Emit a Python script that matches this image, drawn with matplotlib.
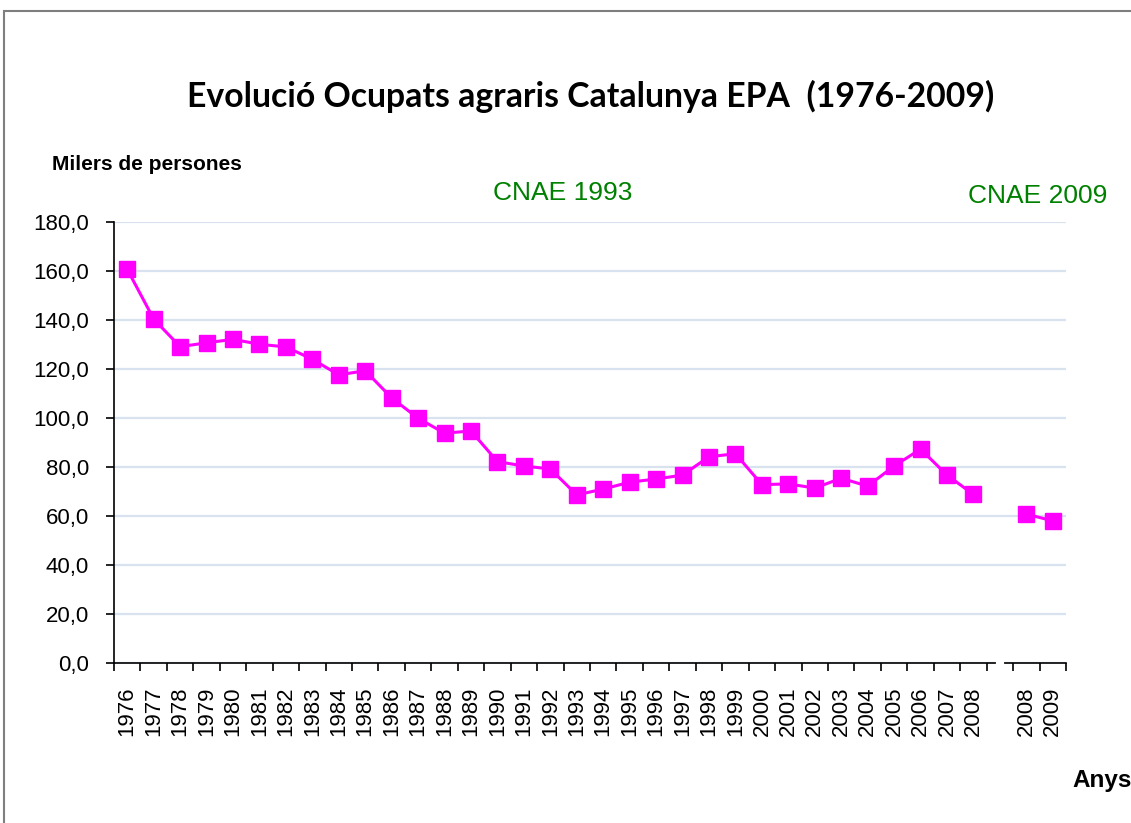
import numpy as np
import matplotlib
matplotlib.use('Agg')
import matplotlib.pyplot as plt
from matplotlib.patches import Rectangle

# categories: 1976..2008 (CNAE 1993), a blank slot, then 2008-2009 (CNAE 2009)
years = [str(y) for y in range(1976, 2009)] + ['', '2008', '2009']
ocupats = [160.7, 140.4, 129.1, 130.7, 132.1, 130.1, 129.0, 124.0, 117.6, 119.3,
           108.2, 99.9, 93.8, 94.7, 82.2, 80.4, 79.2, 68.6, 71.0, 73.8,
           75.1, 76.7, 84.2, 85.4, 72.8, 73.1, 71.4, 75.4, 72.2, 80.4,
           87.3, 76.7, 68.8, np.nan, 60.8, 58.0]
yticks = np.arange(0, 181, 20)

fig = plt.figure(figsize=(11.31, 8.23), dpi=100)
ax = fig.add_axes([114/1131, 1-663/823, (1066-114)/1131, (663-222)/823])

x = np.arange(len(years))
ax.plot(x, ocupats, color='#FF00FF', lw=2.2, marker='s', markersize=11.5,
        markeredgecolor='#FF00FF', zorder=3)

ax.set_xlim(-0.5, len(years) - 0.5)
ax.set_ylim(0, 180)
ax.set_yticks(yticks)
ax.set_yticklabels([f'{v:.1f}'.replace('.', ',') for v in yticks],
                   fontsize=16, family='Liberation Sans')
ax.set_xticks(x)
ax.set_xticklabels(years, rotation=90, fontsize=16, family='Liberation Sans')
ax.set_xticks(np.arange(-0.5, len(years)), minor=True)
ax.tick_params(axis='x', which='major', length=0, pad=17)
ax.tick_params(axis='x', which='minor', length=6, width=1.2, direction='out')
ax.tick_params(axis='y', length=6, width=1.2, pad=12)

ax.grid(axis='y', color='#D9E2EF', lw=1.6, zorder=0)
ax.set_axisbelow(True)
for s in ['top', 'right']:
    ax.spines[s].set_visible(False)
for s in ['left', 'bottom']:
    ax.spines[s].set_linewidth(1.2)
    ax.spines[s].set_color('black')

# small break in the x-axis at the blank slot
ax.plot([32.93, 33.07], [0, 0], color='white', lw=3, clip_on=False, zorder=5)

fig.text(591/1131, 1-96/823, 'Evolució Ocupats agraris Catalunya EPA  (1976-2009)',
         ha='center', va='center', fontsize=24.3, fontweight='bold', family='Lato')
fig.text(52/1131, 1-164/823, 'Milers de persones', ha='left', va='center',
         fontsize=15, fontweight='bold', family='Liberation Sans')
fig.text(563/1131, 1-193/823, 'CNAE 1993', ha='center', va='center',
         fontsize=19, color='#008000', family='Liberation Sans')
fig.text(1038/1131, 1-196/823, 'CNAE 2009', ha='center', va='center',
         fontsize=19, color='#008000', family='Liberation Sans')
fig.text(1072/1131, 1-780/823, 'Anys', ha='left', va='center',
         fontsize=17.5, fontweight='bold', family='Liberation Sans')

fig.patches.append(Rectangle((4/1131, -0.1), 1.2, 1.1 - 11/823,
                             transform=fig.transFigure, fill=False,
                             edgecolor='#7F7F7F', lw=1.5))

fig.savefig('out.png', dpi=100)
